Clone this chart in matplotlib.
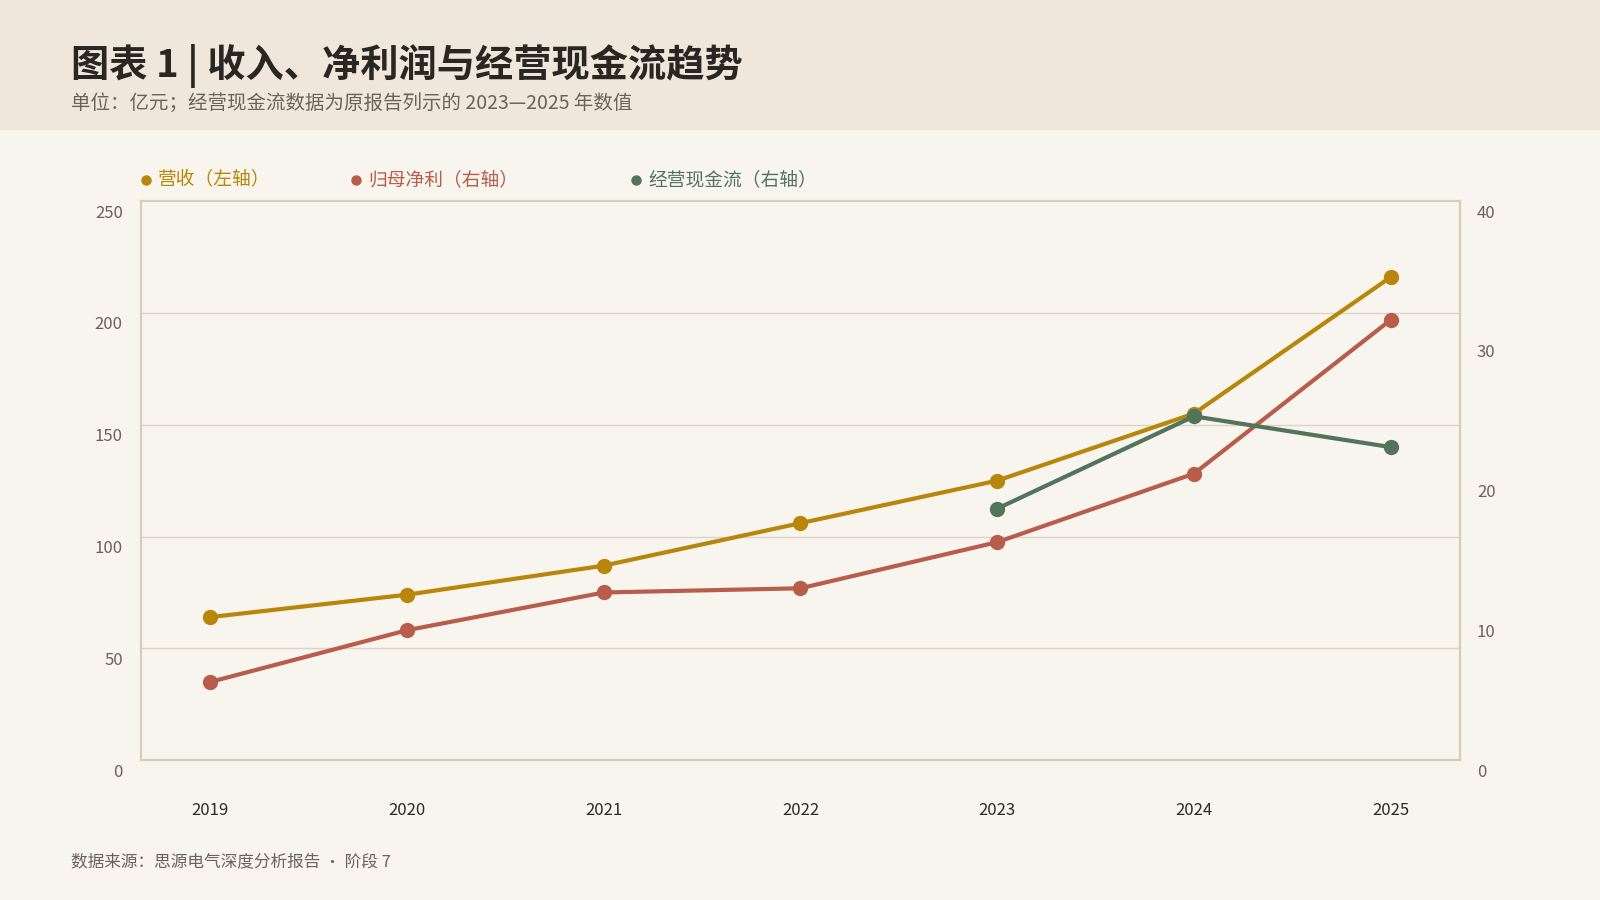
import matplotlib.pyplot as plt
from matplotlib.lines import Line2D
from matplotlib.patches import Rectangle
from matplotlib.transforms import ScaledTranslation

plt.rcParams['font.family'] = ['Noto Sans CJK SC', 'DejaVu Sans']

years = ['2019', '2020', '2021', '2022', '2023', '2024', '2025']
revenue = [64, 74, 87, 106, 125, 155, 216]          # 左轴
net_profit = [5.6, 9.3, 12.0, 12.3, 15.6, 20.5, 31.5]  # 右轴
cash_years = ['2023', '2024', '2025']
cash_flow = [18.0, 24.6, 22.4]                      # 右轴

left_ticks = [0, 50, 100, 150, 200, 250]
right_ticks = [0, 10, 20, 30, 40]

c_rev = '#B8860B'
c_np = '#B85C4C'
c_cf = '#52735C'
bg = '#F8F5EE'
header = '#EFE7DB'
grid_c = '#DDD3C3'
frame_c = '#D6CCBA'
grey = '#6B6259'

fig = plt.figure(figsize=(16, 9), dpi=100, facecolor=bg)
fig.add_artist(Rectangle((0, 1 - 127 / 882), 1, 127 / 882, transform=fig.transFigure,
                         facecolor=header, edgecolor='none', zorder=0))

ax = fig.add_axes([0.088, 0.1553, 0.8246, 0.6213])
ax.set_facecolor(bg)
ax2 = ax.twinx()

x = list(range(len(years)))
xc = [years.index(y) for y in cash_years]

ax.plot(x, revenue, color=c_rev, lw=3, marker='o', ms=10, zorder=3)
ax2.plot(x, net_profit, color=c_np, lw=3, marker='o', ms=10, zorder=3)
ax2.plot(xc, cash_flow, color=c_cf, lw=3, marker='o', ms=10, zorder=4)

ax.set_xlim(-0.353, len(years) - 1 + 0.353)
ax.set_ylim(0, 250)
ax2.set_ylim(0, 40)
ax.set_yticks(left_ticks)
ax2.set_yticks(right_ticks)
ax.set_xticks(x)
ax.set_xticklabels(years)

for v in left_ticks[1:-1]:
    ax.axhline(v, color=grid_c, lw=1, zorder=1)

for a in (ax, ax2):
    for s in a.spines.values():
        s.set_color(frame_c)
        s.set_linewidth(1.5)
    a.tick_params(length=0)

ax.tick_params(axis='y', colors=grey, labelsize=12, pad=13)
ax2.tick_params(axis='y', colors=grey, labelsize=12, pad=12)
ax.tick_params(axis='x', colors='#2D2A26', labelsize=12, pad=30)

off = ScaledTranslation(0, -10 / 100, fig.dpi_scale_trans)
for lab in ax.get_yticklabels() + ax2.get_yticklabels():
    lab.set_transform(lab.get_transform() + off)

# legend
items = [(143, '营收（左轴）', c_rev), (349, '归母净利（右轴）', c_np), (623, '经营现金流（右轴）', c_cf)]
ly = 1 - 176 / 882
for px, txt, col in items:
    fig.add_artist(Line2D([px / 1568], [ly], transform=fig.transFigure, marker='o',
                          ms=6.5, color=col, linestyle='none'))
    fig.text((px + 12) / 1568, ly, txt, color=col, fontsize=13.5, va='center', ha='left')

fig.text(70 / 1568, 1 - 65 / 882, '图表 1 | 收入、净利润与经营现金流趋势', fontsize=27.5,
         fontweight='bold', color='#2A2622', va='center', ha='left')
fig.text(70 / 1568, 1 - 101 / 882, '单位：亿元；经营现金流数据为原报告列示的 2023—2025 年数值',
         fontsize=14, color=grey, va='center', ha='left')
fig.text(70 / 1568, 1 - 845 / 882, '数据来源：思源电气深度分析报告 · 阶段 7',
         fontsize=12, color=grey, va='center', ha='left')

fig.savefig('out.png', dpi=100, facecolor=bg)
